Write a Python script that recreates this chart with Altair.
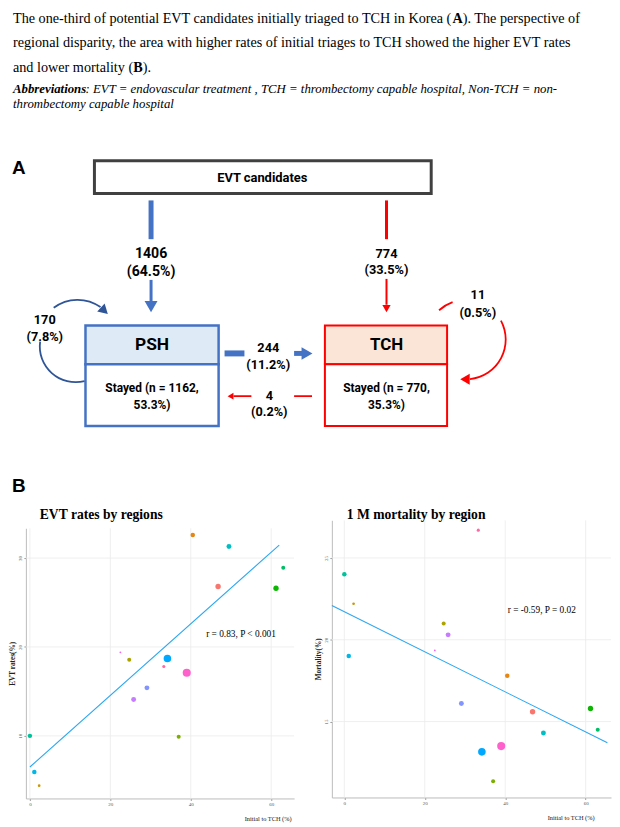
import re
import altair as alt
import pandas as pd

# ---------------- caption text ----------------
caption_line1 = ["The one-third of  potential EVT candidates initially triaged to TCH  in Korea (", "A", "). The perspective of"]
caption_line2 = "regional disparity, the area with higher rates of initial triages to TCH  showed the higher EVT rates"
caption_line3 = ["and lower mortality (", "B", ")."]
abbrev_line1 = ["Abbreviations", ": EVT = endovascular treatment , TCH = thrombectomy capable hospital, Non-TCH = non-"]
abbrev_line2 = "thrombectomy capable hospital"

# ---------------- panel A (flow chart) labels ----------------
box_labels = ["EVT candidates", "PSH", "TCH"]
stayed_labels = [["Stayed (n = 1162,", "53.3%)"], ["Stayed (n = 770,", "35.3%)"]]
flow_counts = ["1406", "774", "170", "244", "4", "11"]
flow_pcts = ["(64.5%)", "(33.5%)", "(7.8%)", "(11.2%)", "(0.2%)", "(0.5%)"]

# ---------------- panel B data ----------------
regions = ["Busan", "Chungbuk", "Chungnam", "Daegu", "Daejeon", "Gangwon", "Gwangju", "Gyeongbuk",
           "Gyeonggi", "Gyeongnam", "Incheon", "Jeju", "Jeonbuk", "Jeonnam", "Seoul", "Ulsan"]
region_colors = ["#F8766D", "#E68613", "#CD9600", "#ABA300", "#7CAE00", "#0CB702", "#00BE67", "#00C19A",
                 "#00BFC4", "#00B8E7", "#00A9FF", "#8494FF", "#C77CFF", "#ED68ED", "#FF61CC", "#FF68A1"]
initial_to_tch = [46.8, 40.5, 2.3, 24.7, 37.0, 61.2, 63.0, 0.0, 49.5, 1.1, 34.2, 29.1, 25.8, 22.5, 39.0, 33.3]
evt_rate = [26.8, 32.6, 4.4, 18.55, 9.9, 26.6, 28.9, 10.0, 31.3, 5.95, 18.7, 15.4, 14.1, 19.4, 17.1, 17.8]
mortality = [15.6, 17.8, 22.2, 21.0, 11.35, 15.8, 14.5, 24.0, 14.3, 19.0, 13.15, 16.1, 20.3, 19.35, 13.5, 26.7]
weight = [36, 25, 9, 20, 20, 36, 20, 25, 30, 25, 72, 30, 30, 4, 81, 12]

x_ticks = [0, 20, 40, 60]
evt_ticks = [10, 20, 30]
mort_ticks = [15, 20, 25]

evt_fit_x = [0.0, 62.0]
evt_fit_y = [6.5, 31.45]
mort_fit_x = [-3.1, 65.4]
mort_fit_y = [22.1, 13.7]
evt_annotation = "r = 0.83, P < 0.001"
mort_annotation = "r = -0.59, P = 0.02"

# ---------------- helpers ----------------
SERIF = "Liberation Serif, Times New Roman, serif"
SANS_C = "Roboto, Liberation Sans, Arial, sans-serif"
SANS = "Liberation Sans, Arial, sans-serif"

_TW = {' ': 250, '!': 333, '(': 333, ')': 333, ',': 250, '-': 333, '.': 250, ':': 278, '=': 564, '<': 564,
       '%': 833, 'A': 722, 'B': 667, 'C': 667, 'D': 722, 'E': 611, 'H': 722, 'K': 722, 'N': 722, 'T': 611,
       'V': 722, 'a': 444, 'b': 500, 'c': 444, 'd': 500, 'e': 444, 'f': 333, 'g': 500, 'h': 500, 'i': 278,
       'j': 278, 'k': 500, 'l': 278, 'm': 778, 'n': 500, 'o': 500, 'p': 500, 'q': 500, 'r': 333, 's': 389,
       't': 278, 'u': 500, 'v': 500, 'w': 722, 'x': 500, 'y': 500, 'z': 444}


def tw(s, size):
    s = re.sub(" +", " ", s)
    return sum(_TW.get(c, 500) for c in s) * size / 1000.0


# whole figure is one view; page pixel = 8 + view pixel
W, H = 604, 811
X0, Y0 = 8, 8
xs = alt.Scale(domain=[X0, X0 + W], nice=False, zero=False)
ys = alt.Scale(domain=[Y0, Y0 + H], nice=False, zero=False, reverse=True)
XE = alt.X("x:Q", scale=xs, axis=None)
YE = alt.Y("y:Q", scale=ys, axis=None)


def text_layer(rows, font, weight="normal", style="normal", align="center"):
    df = pd.DataFrame(rows, columns=["text", "x", "y", "fs"])
    return alt.Chart(df).mark_text(font=font, fontWeight=weight, fontStyle=style, align=align,
                                   baseline="middle", color="black").encode(
        x=XE, y=YE, text="text:N", size=alt.Size("fs:Q", scale=None, legend=None))


# caption rows
CS = 14.3
x_a = 10 + tw(caption_line1[0], CS)
x_b = 10 + tw(caption_line3[0], CS)
cap_normal = [
    [caption_line1[0], 10, 15, CS],
    [caption_line1[2], x_a + 0.722 * CS, 15, CS],
    [caption_line2, 10, 40, CS],
    [caption_line3[0], 10, 65, CS],
    [caption_line3[2], x_b + 0.667 * CS, 65, CS],
]
cap_bold = [[caption_line1[1], x_a, 15, CS], [caption_line3[1], x_b, 65, CS]]
AS = 12.9
cap_bi = [[abbrev_line1[0], 10, 86, AS]]
cap_it = [[abbrev_line1[1], 10 + tw(abbrev_line1[0], AS), 86, AS], [abbrev_line2, 10, 101, AS]]

panel_letters = [["A", 9, 165, 19], ["B", 9, 486, 19]]
plot_titles = [["EVT rates by regions", 37, 515, 13.7], ["1 M mortality by region", 346, 515, 13.7]]

diagram_text = [
    [box_labels[0], 261, 175, 13],
    [box_labels[1], 150, 344, 17.5],
    [box_labels[2], 386, 344, 17],
    [stayed_labels[0][0], 150, 387, 12], [stayed_labels[0][1], 150, 404, 12],
    [stayed_labels[1][0], 386, 387, 12], [stayed_labels[1][1], 386, 404, 12],
    [flow_counts[0], 149, 252, 14.2], [flow_pcts[0], 149, 270, 14.2],
    [flow_counts[1], 386, 252, 12.8], [flow_pcts[1], 386, 268, 12.8],
    [flow_counts[2], 42, 318, 12.8], [flow_pcts[2], 42, 335, 12.8],
    [flow_counts[3], 267, 347, 12.8], [flow_pcts[3], 267, 364, 12.8],
    [flow_counts[4], 268, 395, 12.8], [flow_pcts[4], 268, 411, 12.8],
    [flow_counts[5], 478, 293, 12.8], [flow_pcts[5], 478, 311, 12.8],
]

# boxes
rects = pd.DataFrame({
    "x": [92, 83, 83, 324, 324], "x2": [431, 217, 217, 447, 447],
    "y": [158, 324, 363, 324, 363], "y2": [191, 363, 425, 363, 425],
    "fill": ["#FFFFFF", "#DEEBF7", "#FFFFFF", "#FBE5D6", "#FFFFFF"],
    "stroke": ["#404040", "#4472C4", "#4472C4", "#FF0000", "#FF0000"],
    "sw": [3, 2.5, 2.5, 2, 2],
})
rect_layer = alt.Chart(rects).mark_rect().encode(
    x=XE, x2="x2:Q", y=YE, y2="y2:Q",
    fill=alt.Fill("fill:N", scale=None), stroke=alt.Stroke("stroke:N", scale=None),
    strokeWidth=alt.StrokeWidth("sw:Q", scale=None))

# straight connectors
segs = pd.DataFrame({
    "x": [149, 149, 386, 386, 223, 293, 293, 232],
    "x2": [149, 149, 386, 386, 243, 304, 311, 250],
    "y": [198, 278, 198, 277, 352, 352, 395, 395],
    "y2": [237, 300, 237, 303, 352, 352, 395, 395],
    "col": ["#4472C4", "#4472C4", "#FF0000", "#FF0000", "#4472C4", "#4472C4", "#FF0000", "#FF0000"],
    "sw": [5, 3, 3, 2, 6, 5, 1.8, 1.8],
})
seg_layer = alt.Chart(segs).mark_rule(strokeCap="butt").encode(
    x=XE, x2="x2:Q", y=YE, y2="y2:Q",
    color=alt.Color("col:N", scale=None), strokeWidth=alt.StrokeWidth("sw:Q", scale=None))

heads = pd.DataFrame({
    "x": [149, 386, 306, 229, 102, 465],
    "y": [305, 307, 352, 395, 309, 378],
    "shape": ["triangle-down", "triangle-down", "triangle-right", "triangle-left", "triangle-right", "triangle-left"],
    "size": [170, 70, 160, 45, 120, 120],
    "ang": [0, 0, 0, 0, 43, 0],
    "col": ["#4472C4", "#FF0000", "#4472C4", "#FF0000", "#2F5597", "#FF0000"],
})
head_layer = alt.Chart(heads).mark_point(filled=True, opacity=1, strokeWidth=0).encode(
    x=XE, y=YE, shape=alt.Shape("shape:N", scale=None), size=alt.Size("size:Q", scale=None),
    angle=alt.Angle("ang:Q", scale=None), color=alt.Color("col:N", scale=None))

# curved loops (centre, radius, start/end angle in radians, colour)
loops = [
    (73, 345, 36, 2.889, 4.85, "#2F5597"),
    (75, 338, 40, 5.64, 6.90, "#2F5597"),
    (466, 338, 40, 5.54, 5.94, "#FF0000"),
    (466, 338, 40, 1.075, 3.04, "#FF0000"),
]
loop_layers = []
for cx, cy, r, t1, t2, c in loops:
    loop_layers.append(
        alt.Chart(pd.DataFrame({"x": [cx], "y": [cy]})).mark_arc(
            theta=t1, theta2=t2, radius=r + 0.9, radius2=r - 0.9, color=c).encode(x=XE, y=YE))

top = alt.layer(
    text_layer(cap_normal, SERIF, align="left"),
    text_layer(cap_bold, SERIF, weight="bold", align="left"),
    text_layer(cap_bi, SERIF, weight="bold", style="italic", align="left"),
    text_layer(cap_it, SERIF, style="italic", align="left"),
    text_layer(panel_letters, SANS, weight="bold", align="left"),
    text_layer(plot_titles, SERIF, weight="bold", align="left"),
    rect_layer, seg_layer, *loop_layers, head_layer,
    text_layer(diagram_text, SANS_C, weight="bold"),
)


# ---------------- panel B scatter plots (own scales, placed by scale ranges) ----------------
def scatter(yvals, ytitle, xticks, yticks, xdom, ydom, xpix, ypix, title_end,
            fitx, fity, ann, annx, anny):
    # xpix/ypix: page pixel extent of the plot area (left, right) / (top, bottom)
    xr = [xpix[0] - X0, xpix[1] - X0]
    yr = [ypix[1] - Y0, ypix[0] - Y0]
    xsc = alt.Scale(domain=xdom, range=xr, nice=False, zero=False)
    ysc = alt.Scale(domain=ydom, range=yr, nice=False, zero=False)
    xax = alt.Axis(orient="bottom", offset=-(H - yr[0]), values=xticks, grid=False,
                   title="Initial to TCH (%)", titleX=title_end - X0, titleY=20, titleAlign="right",
                   titleBaseline="middle",
                   titleFont=SERIF, titleFontSize=6.4, titleFontWeight="normal",
                   titleColor="#111111",
                   labelFont=SERIF, labelFontSize=5, labelColor="#555555", labelPadding=1.5,
                   tickSize=2, tickColor="#999999", domainColor="#BBBBBB")
    yax = alt.Axis(orient="left", offset=-xr[0], values=yticks, grid=False,
                   title=ytitle, titleFont=SERIF, titleFontSize=7.3, titleFontWeight="bold",
                   titlePadding=1.5, titleColor="#222222",
                   labelFont=SERIF, labelFontSize=5, labelColor="#555555", labelAngle=270, labelPadding=1,
                   tickSize=2, tickColor="#999999", domainColor="#BBBBBB")
    X = alt.X("x:Q", scale=xsc, axis=xax)
    Y = alt.Y("y:Q", scale=ysc, axis=yax)
    vgrid = alt.Chart(pd.DataFrame({"x": xticks, "y": [ydom[0]] * len(xticks), "y2": [ydom[1]] * len(xticks)})
                      ).mark_rule(color="#EBEBEB", strokeWidth=0.8).encode(x=X, y=Y, y2="y2:Q")
    hgrid = alt.Chart(pd.DataFrame({"y": yticks, "x": [xdom[0]] * len(yticks), "x2": [xdom[1]] * len(yticks)})
                      ).mark_rule(color="#EBEBEB", strokeWidth=0.8).encode(x=X, x2="x2:Q", y=Y)
    df = pd.DataFrame({"region": regions, "col": region_colors, "x": initial_to_tch, "y": yvals, "w": weight})
    points = alt.Chart(df).mark_circle(opacity=1).encode(
        x=X, y=Y,
        size=alt.Size("w:Q", scale=alt.Scale(domain=[0, 81], range=[0, 66]), legend=None),
        color=alt.Color("col:N", scale=None))
    fit = alt.Chart(pd.DataFrame({"x": fitx, "y": fity})).mark_line(color="#2AA7F2", strokeWidth=1.1).encode(
        x=X, y=Y)
    txt = alt.Chart(pd.DataFrame({"x": [annx], "y": [anny], "t": [ann]})).mark_text(
        font=SERIF, fontSize=9.4, color="black").encode(x=X, y=Y, text="t:N")
    return alt.layer(vgrid, hgrid, fit, points, txt)


left = scatter(evt_rate, "EVT rates(%)", x_ticks, evt_ticks, [-1.0, 65.7], [2.96, 33.35],
               (23, 293), (528, 800), 290, evt_fit_x, evt_fit_y, evt_annotation, 52.5, 21.5)
right = scatter(mortality, "Mortality(%)", x_ticks, mort_ticks, [-3.1, 66.3], [10.36, 27.3],
                (331, 612), (520, 799), 595, mort_fit_x, mort_fit_y, mort_annotation, 49.1, 21.84)

chart = alt.layer(top, left, right).resolve_scale(
    x="independent", y="independent", size="independent"
).properties(width=W, height=H, padding=0).configure_view(stroke=None)

chart.save("out.html", embed_options={"renderer": "svg", "actions": False})
